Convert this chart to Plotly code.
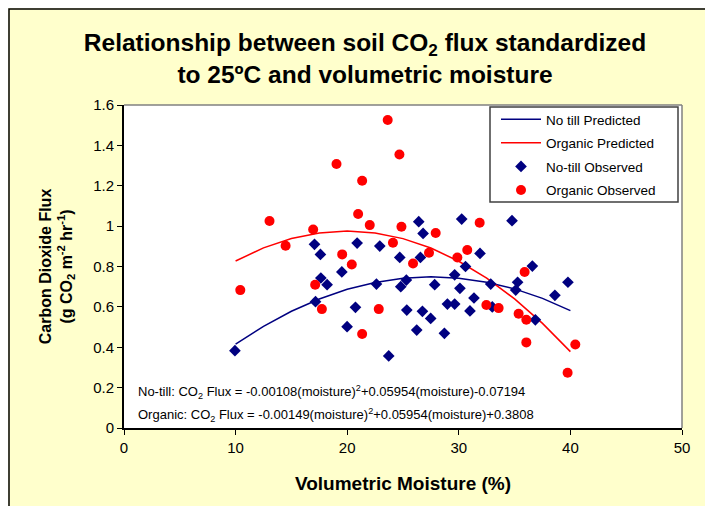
import plotly.graph_objects as go

# Observed data
notill_x = [9.94, 17.07, 17.16, 17.6, 17.64, 18.2, 19.52, 19.99, 20.74, 20.89, 22.62, 22.92,
            23.72, 24.71, 24.8, 25.3, 25.34, 26.23, 26.41, 26.56, 26.74, 26.8, 27.48, 27.84,
            28.71, 28.98, 29.63, 29.63, 30.1, 30.26, 30.6, 31.0, 31.36, 31.9, 32.86, 33.0,
            34.77, 35.1, 35.27, 36.59, 36.86, 38.61, 39.78]
notill_y = [0.383, 0.91, 0.626, 0.86, 0.743, 0.71, 0.773, 0.502, 0.598, 0.916, 0.713, 0.901,
            0.357, 0.845, 0.70, 0.733, 0.584, 0.485, 1.022, 0.845, 0.578, 0.964, 0.543, 0.71,
            0.469, 0.614, 0.759, 0.614, 0.692, 1.035, 0.80, 0.58, 0.644, 0.865, 0.713, 0.60,
            1.027, 0.683, 0.722, 0.802, 0.536, 0.657, 0.722]

organic_x = [10.42, 13.04, 14.48, 16.95, 17.13, 17.73, 19.04, 19.55, 20.41, 20.98, 21.34, 21.34,
             22.02, 22.83, 23.63, 24.1, 24.68, 24.86, 25.9, 27.33, 27.93, 29.87, 30.76, 31.87,
             32.47, 33.57, 35.36, 35.9, 36.05, 36.05, 39.75, 40.44]
organic_y = [0.683, 1.025, 0.903, 0.983, 0.71, 0.589, 1.308, 0.86, 0.81, 1.06, 1.225, 0.466,
             1.005, 0.589, 1.526, 0.918, 1.355, 0.997, 0.815, 0.868, 0.966, 0.845, 0.882, 1.017,
             0.609, 0.594, 0.566, 0.773, 0.536, 0.424, 0.274, 0.414]

# Predicted curves (values from the fitted equations shown on the chart)
pred_x = [10, 12.5, 15, 17.5, 20, 22.5, 25, 27.5, 30, 32.5, 35, 37.5, 40]
notill_pred = [0.4155, 0.5036, 0.5782, 0.6393, 0.6869, 0.7210, 0.7416, 0.7487, 0.7423,
               0.7224, 0.6890, 0.6421, 0.5817]
organic_pred = [0.8272, 0.8922, 0.9387, 0.9664, 0.9756, 0.9661, 0.9381, 0.8913, 0.8260,
                0.7420, 0.6395, 0.5182, 0.3784]

x_ticks = [0, 10, 20, 30, 40, 50]
y_ticks = [0, 0.2, 0.4, 0.6, 0.8, 1.0, 1.2, 1.4, 1.6]
y_tick_labels = ["0", "0.2", "0.4", "0.6", "0.8", "1", "1.2", "1.4", "1.6"]

NAVY = "#000080"
RED = "#FF0000"
FONT = "Liberation Sans, Arial, sans-serif"

fig = go.Figure()
fig.add_trace(go.Scatter(x=pred_x, y=notill_pred, mode="lines", name="No till Predicted",
                         line=dict(color=NAVY, width=1.5), legendgroup="a"))
fig.add_trace(go.Scatter(x=pred_x, y=organic_pred, mode="lines", name="Organic Predicted",
                         line=dict(color=RED, width=1.5), legendgroup="b"))
fig.add_trace(go.Scatter(x=notill_x, y=notill_y, mode="markers", name="No-till Observed",
                         marker=dict(symbol="diamond", color=NAVY, size=9), legendgroup="c"))
fig.add_trace(go.Scatter(x=organic_x, y=organic_y, mode="markers", name="Organic Observed",
                         marker=dict(symbol="circle", color=RED, size=10), legendgroup="d"))

# page offset (browser body margin)
OFF = 8
W, H = 713 - OFF, 506 - OFF
PL, PR, PT, PB = 124, 682, 105, 428  # plot box in reference pixels
L, R, T, B = PL - OFF, W - (PR - OFF), PT - OFF, H - (PB - OFF)
pw, ph = PR - PL, PB - PT

def px2x(p):
    return (p - PL) / pw

def py2y(p):
    return (PB - p) / ph

fig.update_layout(
    width=W, height=H,
    margin=dict(l=L, r=R, t=T, b=B, pad=0),
    paper_bgcolor="#FFFFCC",
    plot_bgcolor="white",
    font=dict(family=FONT, size=15, color="black"),
    title=dict(text="<b>Relationship between soil CO<sub>2</sub> flux standardized<br>to 25ºC and volumetric moisture</b>",
               x=(365 - OFF) / W, xanchor="center", y=1 - (51 - OFF) / H, yanchor="middle",
               font=dict(family=FONT, size=24.5, color="black")),
    showlegend=True,
    legend=dict(x=px2x(496), y=py2y(104), xanchor="left", yanchor="top",
                bgcolor="rgba(0,0,0,0)", borderwidth=0,
                font=dict(family=FONT, size=13.5, color="black"),
                tracegroupgap=3, itemwidth=40),
    xaxis=dict(range=[0, 50], tickvals=x_ticks, ticks="outside", ticklen=5, tickcolor="black",
               showline=True, linecolor="black", linewidth=2, showgrid=False, zeroline=False,
               tickfont=dict(size=15),
               title=dict(text="<b>Volumetric Moisture (%)</b>", font=dict(size=19), standoff=22)),
    yaxis=dict(range=[0, 1.6], tickvals=y_ticks, ticktext=y_tick_labels, ticks="outside", ticklen=5,
               tickcolor="black", showline=True, linecolor="black", linewidth=2, showgrid=False,
               zeroline=False, tickfont=dict(size=15),
               title=dict(text="<b>Carbon Dioxide Flux<br>(g CO<sub>2</sub> m<sup>-2</sup> hr<sup>-1</sup>)</b>",
                          font=dict(size=16), standoff=17)),
)

# top and right plot borders (gray)
fig.add_shape(type="line", xref="paper", yref="paper", x0=0, x1=1, y0=1, y1=1,
              line=dict(color="#808080", width=1.5))
fig.add_shape(type="line", xref="paper", yref="paper", x0=1, x1=1, y0=0, y1=1,
              line=dict(color="#808080", width=1.5))
# legend box
fig.add_shape(type="rect", xref="paper", yref="paper", x0=px2x(490), x1=px2x(678),
              y0=py2y(202), y1=py2y(107), fillcolor="white",
              line=dict(color="#404040", width=1.5))
# outer frame
fig.add_shape(type="rect", xref="paper", yref="paper", x0=px2x(9), x1=px2x(760),
              y0=py2y(560), y1=py2y(9), line=dict(color="black", width=1.5), layer="below")

fig.add_annotation(xref="paper", yref="paper", x=px2x(136), y=py2y(392), xanchor="left", yanchor="middle",
                   showarrow=False, font=dict(size=13),
                   text="No-till: CO<sub>2</sub> Flux = -0.00108(moisture)<sup>2</sup>+0.05954(moisture)-0.07194")
fig.add_annotation(xref="paper", yref="paper", x=px2x(136), y=py2y(415), xanchor="left", yanchor="middle",
                   showarrow=False, font=dict(size=13),
                   text="Organic: CO<sub>2</sub> Flux = -0.00149(moisture)<sup>2</sup>+0.05954(moisture)+0.3808")

fig.write_html("out.html")
